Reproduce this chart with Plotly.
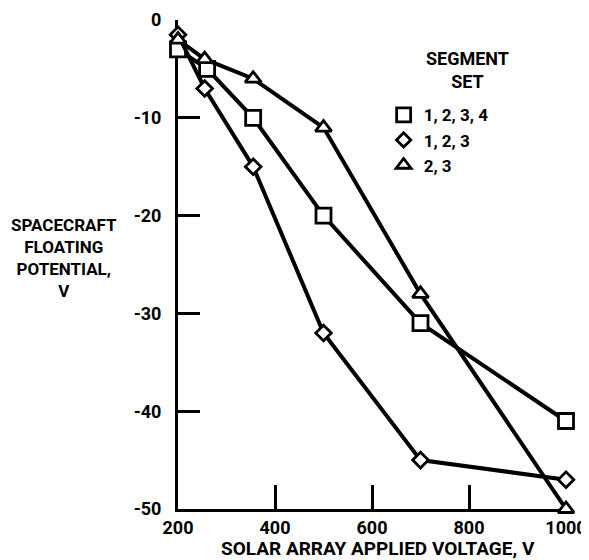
import plotly.graph_objects as go

# ---- data ----
x_sq = [200, 260, 355, 500, 700, 1000]
y_sq = [-3, -5, -10, -20, -31, -41]
x_di = [200, 255, 355, 500, 700, 1000]
y_di = [-1.5, -7, -15, -32, -45, -47]
x_tr = [200, 255, 355, 500, 700, 1000]
y_tr = [-2, -4, -6, -11, -28, -50]

series_names = ["1, 2, 3, 4", "1, 2, 3", "2, 3"]
x_tickvals = [200, 400, 600, 800, 1000]
x_ticktext = ["200", "400", "600", "800", "1000"]
y_tickvals = [0, -10, -20, -30, -40, -50]
y_ticktext = ["0", "-10", "-20", "-30", "-40", "-50"]

FONT = "Liberation Sans Narrow, Roboto, sans-serif"

fig = go.Figure()
specs = [
    (x_sq, y_sq, "square", 15),
    (x_di, y_di, "diamond", 12),
    (x_tr, y_tr, "triangle-up", 14),
]
for (xs, ys, sym, sz), name in zip(specs, series_names):
    fig.add_trace(go.Scatter(
        x=xs, y=ys, mode="lines+markers", showlegend=False, cliponaxis=False,
        line=dict(color="black", width=4),
        marker=dict(symbol=sym, size=sz, color="white",
                    line=dict(color="black", width=2.8)),
    ))
for (xs, ys, sym, sz), name in zip(specs, series_names):
    fig.add_trace(go.Scatter(
        x=[None], y=[None], mode="markers", name=name, showlegend=True,
        marker=dict(symbol=sym, size=sz - 1, color="white",
                    line=dict(color="black", width=2.8)),
    ))

fig.update_layout(
    template="none",
    width=581, height=552,
    margin=dict(l=170, r=23, t=12, b=51, autoexpand=False),
    paper_bgcolor="white", plot_bgcolor="white",
    font=dict(family=FONT, size=18, color="black", weight="bold"),
    showlegend=True,
    legend=dict(x=0.53, y=0.842, xanchor="left", yanchor="top",
                bgcolor="rgba(0,0,0,0)", font=dict(size=17, family=FONT, weight="bold"),
                itemsizing="trace", tracegroupgap=0),
    xaxis=dict(range=[200, 1000], tickvals=x_tickvals, ticktext=x_ticktext,
               ticks="inside", ticklen=24, tickwidth=2.5, tickcolor="black",
               showline=True, linecolor="black", linewidth=3, showgrid=False,
               zeroline=False, layer="below traces", ticklabelstandoff=0,
               automargin=False,
               tickfont=dict(size=18, family=FONT, weight="bold")),
    yaxis=dict(range=[-50, 0], tickvals=y_tickvals, ticktext=y_ticktext,
               ticks="inside", ticklen=22, tickwidth=2.5, tickcolor="black",
               showline=True, linecolor="black", linewidth=3, showgrid=False,
               zeroline=False, layer="below traces", ticklabelstandoff=10,
               automargin=False,
               tickfont=dict(size=18, family=FONT, weight="bold")),
    annotations=[
        dict(text="SPACECRAFT<br>FLOATING<br>POTENTIAL,<br>V", xref="paper", yref="paper",
             x=-0.294, y=0.513, xanchor="center", yanchor="middle", showarrow=False,
             align="center", font=dict(size=17, family=FONT, weight="bold")),
        dict(text="SOLAR ARRAY APPLIED VOLTAGE, V", xref="paper", yref="paper",
             x=0.515, y=-0.080, xanchor="center", yanchor="middle", showarrow=False,
             font=dict(size=19, family=FONT, weight="bold")),
        dict(text="SEGMENT<br>SET", xref="paper", yref="paper",
             x=0.747, y=0.898, xanchor="center", yanchor="middle", showarrow=False,
             align="center", font=dict(size=18, family=FONT, weight="bold")),
    ],
)

fig.write_html("out.html")
